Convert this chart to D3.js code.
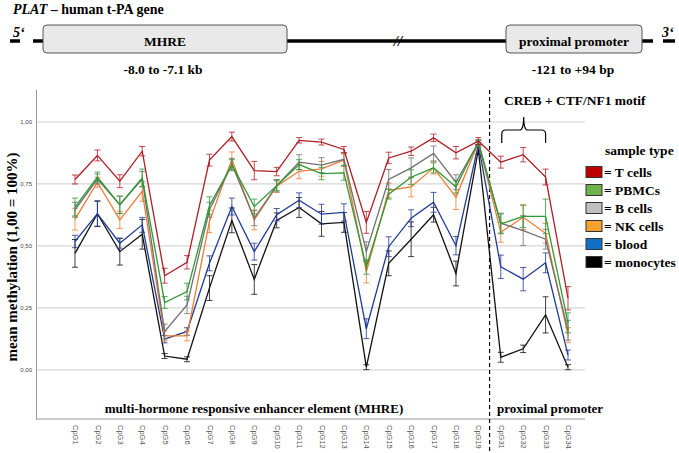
<!DOCTYPE html>
<html><head><meta charset="utf-8">
<script src="https://cdn.jsdelivr.net/npm/d3@7"></script>
<style>body{margin:0;background:#fff}svg{display:block}.sf{font-family:"Liberation Serif","DejaVu Serif","Times New Roman",serif;font-weight:bold}</style>
</head><body>
<svg id="c" width="679" height="453"></svg>
<script>
const categories = ["CpG1","CpG2","CpG3","CpG4","CpG5","CpG6","CpG7","CpG8","CpG9","CpG10","CpG11","CpG12","CpG13","CpG14","CpG15","CpG16","CpG17","CpG18","CpG19","CpG31","CpG32","CpG33","CpG34"];
const seriesNames = ["T cells","PBMCs","B cells","NK cells","blood","monocytes"];
const tCells   = [0.768,0.865,0.761,0.882,0.380,0.434,0.846,0.941,0.804,0.800,0.926,0.919,0.889,0.595,0.855,0.882,0.936,0.876,0.923,0.838,0.868,0.778,0.289];
const pbmcs    = [0.657,0.778,0.666,0.774,0.272,0.316,0.662,0.828,0.659,0.743,0.828,0.792,0.795,0.416,0.709,0.777,0.815,0.738,0.919,0.589,0.619,0.619,0.190];
const bCells   = [0.646,0.770,0.666,0.770,0.155,0.262,0.646,0.828,0.612,0.743,0.838,0.826,0.849,0.477,0.768,0.815,0.873,0.757,0.916,0.592,0.562,0.527,0.160];
const nkCells  = [0.608,0.757,0.605,0.720,0.137,0.137,0.599,0.849,0.605,0.741,0.801,0.811,0.846,0.396,0.724,0.738,0.815,0.697,0.916,0.555,0.616,0.551,0.140];
const blood    = [0.518,0.630,0.511,0.585,0.124,0.155,0.430,0.659,0.477,0.626,0.684,0.628,0.635,0.166,0.497,0.612,0.676,0.501,0.909,0.416,0.366,0.432,0.060];
const monocytes= [0.470,0.630,0.477,0.547,0.056,0.043,0.330,0.603,0.365,0.603,0.655,0.589,0.595,0.011,0.430,0.527,0.626,0.389,0.889,0.051,0.085,0.222,0.011];
const tErr     = [0.018,0.022,0.026,0.019,0.030,0.027,0.024,0.018,0.037,0.017,0.011,0.012,0.012,0.044,0.023,0.017,0.015,0.025,0.014,0.024,0.029,0.032,0.047];
const pbmcErr  = [0.036,0.020,0.035,0.036,0.024,0.034,0.036,0.020,0.030,0.020,0.020,0.025,0.030,0.030,0.020,0.030,0.020,0.025,0.010,0.040,0.045,0.070,0.040];
const bErr     = [0.030,0.020,0.035,0.030,0.030,0.035,0.030,0.025,0.030,0.025,0.030,0.030,0.025,0.040,0.040,0.040,0.030,0.030,0.010,0.040,0.060,0.040,0.040];
const nkErr    = [0.044,0.020,0.035,0.040,0.020,0.020,0.045,0.030,0.040,0.025,0.030,0.030,0.025,0.045,0.030,0.040,0.025,0.050,0.010,0.040,0.050,0.040,0.030];
const bloodErr = [0.025,0.050,0.020,0.030,0.015,0.015,0.030,0.034,0.034,0.025,0.030,0.040,0.035,0.040,0.040,0.034,0.040,0.037,0.010,0.047,0.047,0.040,0.020];
const monoErr  = [0.056,0.052,0.054,0.060,0.010,0.010,0.050,0.050,0.060,0.030,0.040,0.050,0.040,0.010,0.050,0.070,0.030,0.050,0.020,0.020,0.015,0.073,0.010];
const tickValues = [0, 0.25, 0.5, 0.75, 1.0];
const tickLabels = ["0,00","0,25","0,50","0,75","1,00"];
const lineColors = ["#b01e24","#2f9a35","#707070","#ef7a35","#1f3a94","#111111"];
const legendColors = ["#c00000","#6fb24a","#c0c0c0","#f7a22c","#1070c8","#000000"];

const seriesVals = [tCells,pbmcs,bCells,nkCells,blood,monocytes];
const seriesErr = [tErr,pbmcErr,bErr,nkErr,bloodErr,monoErr];

const svg = d3.select("#c");
const sans = "'Liberation Sans',Arial,sans-serif";
function st(g, x, y, size, txt, anchor){
  return g.append("text").attr("class","sf").attr("x",x).attr("y",y).style("font-size",size+"px")
    .attr("text-anchor",anchor||"start").text(txt);
}

// ---- gene diagram ----
const g0 = svg.append("g");
const title = g0.append("text").attr("class","sf").attr("x",13).attr("y",14).style("font-size","14px");
title.append("tspan").style("font-style","italic").text("PLAT");
title.append("tspan").text(" \u2013 human t-PA gene");
st(g0,13,37,14,"5\u2018").style("font-style","italic");
g0.append("line").attr("x1",10).attr("x2",20).attr("y1",41).attr("y2",41).attr("stroke","#000").attr("stroke-width",3.5);
g0.append("line").attr("x1",33).attr("x2",653).attr("y1",41).attr("y2",41).attr("stroke","#000").attr("stroke-width",3.5);
g0.append("line").attr("x1",663).attr("x2",675).attr("y1",41).attr("y2",41).attr("stroke","#000").attr("stroke-width",3.5);
st(g0,662,37,14,"3\u2018").style("font-style","italic");
st(g0,398,46,15,"//","middle").style("font-style","italic");
g0.append("rect").attr("x",43).attr("y",25).attr("width",244).attr("height",28).attr("rx",4).attr("fill","#e9e9e9").attr("stroke","#555").attr("stroke-width",1);
st(g0,165,45.5,13.5,"MHRE","middle");
st(g0,163,74,13.5,"-8.0 to -7.1 kb","middle");
g0.append("rect").attr("x",506).attr("y",25).attr("width",136).attr("height",28).attr("rx",4).attr("fill","#e9e9e9").attr("stroke","#555").attr("stroke-width",1);
st(g0,574,45.5,13.5,"proximal promoter","middle");
st(g0,573,74,13.5,"-121 to +94 bp","middle");

// ---- chart ----
const x = d3.scalePoint().domain(categories).range([75,568]);
const y = d3.scaleLinear().domain([-0.198,1.133]).range([419,89]);
const left = 36, right = 585;

svg.append("g").selectAll("line").data(tickValues).join("line")
  .attr("x1",left).attr("x2",right).attr("y1",d=>y(d)).attr("y2",d=>y(d))
  .attr("stroke","#d6d6d6").attr("stroke-width",1.2);

const yAxis = d3.axisLeft(y).tickValues(tickValues).tickSize(0).tickPadding(4)
  .tickFormat((d,i)=>tickLabels[i]);
const ya = svg.append("g").attr("transform",`translate(${left},0)`).call(yAxis);
ya.select(".domain").attr("stroke","#999");
ya.selectAll("text").attr("font-family",sans).attr("font-size",6).attr("fill","#444");

const xAxis = d3.axisBottom(x).tickSize(0).tickPadding(0);
const xa = svg.append("g").attr("transform","translate(0,419)").call(xAxis);
xa.select(".domain").attr("d",`M${left},0H${right}`).attr("stroke","#999");
xa.selectAll(".tick text").attr("font-family",sans).attr("font-size",7.5).attr("fill","#555")
  .attr("transform","rotate(90)").attr("text-anchor","start").attr("dy","0.32em").attr("x",6).attr("y",0);

st(svg,0,0,15,"mean methylation (1,00 = 100%)","middle").attr("x",null).attr("y",null)
  .attr("transform","translate(17,257) rotate(-90)");

st(svg,254,413,13,"multi-hormone responsive enhancer element (MHRE)","middle");
st(svg,497,413,13,"proximal promoter");

const sepX = (x("CpG19")+x("CpG31"))/2;
svg.append("line").attr("x1",sepX).attr("x2",sepX).attr("y1",90).attr("y2",453)
  .attr("stroke","#000").attr("stroke-width",1.2).attr("stroke-dasharray","4,3");

const b0 = x("CpG31")+1, b1 = x("CpG33"), bm = (b0+b1)/2;
svg.append("path").attr("fill","none").attr("stroke","#000").attr("stroke-width",1.2)
  .attr("d",`M${b0},143 L${b0},134 Q${b0},130 ${b0+4},130 L${bm-4},130 Q${bm},130 ${bm},117 Q${bm},130 ${bm+4},130 L${b1-4},130 Q${b1},130 ${b1},134 L${b1},143`);
st(svg,504,105,13.5,"CREB + CTF/NF1 motif");

const line = d3.line().x((d,i)=>x(categories[i])).y(d=>y(d));
const order = [5,4,3,2,1,0];
order.forEach(s=>{
  const g = svg.append("g");
  const vals = seriesVals[s], errs = seriesErr[s], col = lineColors[s];
  g.append("path").datum(vals).attr("d",line).attr("fill","none").attr("stroke",col).attr("stroke-width",1.3);
  const eb = g.selectAll("g.eb").data(vals).join("g").attr("class","eb");
  eb.append("line").attr("x1",(d,i)=>x(categories[i])).attr("x2",(d,i)=>x(categories[i]))
    .attr("y1",(d,i)=>y(d+errs[i])).attr("y2",(d,i)=>y(d-errs[i])).attr("stroke",col).attr("stroke-opacity",0.8).attr("stroke-width",1);
  [1,-1].forEach(sg=>{
    eb.append("line").attr("x1",(d,i)=>x(categories[i])-3).attr("x2",(d,i)=>x(categories[i])+3)
      .attr("y1",(d,i)=>y(d+sg*errs[i])).attr("y2",(d,i)=>y(d+sg*errs[i])).attr("stroke",col).attr("stroke-opacity",0.8).attr("stroke-width",1);
  });
});

const lg = svg.append("g");
st(lg,605,155,13.5,"sample type");
seriesNames.forEach((n,i)=>{
  const yy = 172 + i*18;
  lg.append("rect").attr("x",586).attr("y",yy-5.5).attr("width",16).attr("height",11).attr("fill",legendColors[i]).attr("stroke","#333").attr("stroke-width",1);
  st(lg,604,yy+4.5,13.5,"= "+n);
});
</script>
</body></html>
